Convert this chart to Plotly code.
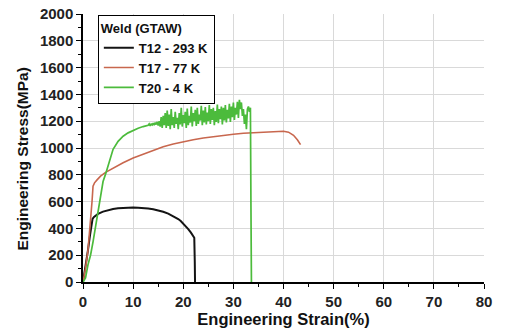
import plotly.graph_objects as go

# T12 - 293 K (black)
t12_strain = [0, 0.5, 1.0, 1.4, 1.7, 1.9, 2.2, 2.6, 3.0, 4.0, 5.0, 6.0, 7.0, 8.0, 9.0, 10.0, 11.0, 12.0,
              13.0, 14.0, 15.0, 16.0, 17.0, 18.0, 19.0, 19.5, 20.0, 20.5, 21.0, 21.5, 22.0, 22.2, 22.3, 22.35]
t12_stress = [0, 110, 240, 350, 440, 470, 485, 498, 508, 525, 537, 545, 550, 553, 555, 556, 555, 553,
              549, 543, 535, 524, 510, 492, 470, 455, 437, 418, 395, 370, 345, 330, 150, 0]

# T17 - 77 K (red)
t17_strain = [0, 0.5, 1.0, 1.5, 1.8, 2.0, 2.3, 2.8, 3.5, 4.5, 6.0, 8.0, 10.0, 12.0, 14.0, 16.0, 18.0,
              20.0, 22.0, 24.0, 26.0, 28.0, 30.0, 32.0, 34.0, 36.0, 38.0, 40.0, 41.0, 42.0, 42.8, 43.4]
t17_stress = [0, 100, 240, 430, 600, 715, 740, 762, 790, 818, 850, 890, 925, 955, 985, 1010, 1030,
              1048, 1062, 1075, 1086, 1095, 1103, 1110, 1115, 1120, 1124, 1125, 1118, 1095, 1060, 1025]

# T20 - 4 K (green)
t20_strain = [0, 0.5, 1.0, 1.5, 2.0, 2.5, 3.0, 3.5, 4.0, 4.5, 5.0, 5.5, 6.0, 7.0, 8.0, 9.0, 10.0, 11.0, 12.0,
              13.0, 13.2, 13.4, 13.6, 13.8, 14.0, 14.2, 14.4, 14.6, 14.8, 15.0, 15.2, 15.4, 15.6, 15.8,
              16.0, 16.2, 16.4, 16.6, 16.8, 17.0, 17.2, 17.4, 17.6, 17.8, 18.0, 18.2, 18.4, 18.6, 18.8,
              19.0, 19.2, 19.4, 19.6, 19.8, 20.0, 20.2, 20.4, 20.6, 20.8, 21.0, 21.2, 21.4, 21.6, 21.8,
              22.0, 22.2, 22.4, 22.6, 22.8, 23.0, 23.2, 23.4, 23.6, 23.8, 24.0, 24.2, 24.4, 24.6, 24.8,
              25.0, 25.2, 25.4, 25.6, 25.8, 26.0, 26.2, 26.4, 26.6, 26.8, 27.0, 27.2, 27.4, 27.6, 27.8,
              28.0, 28.2, 28.4, 28.6, 28.8, 29.0, 29.2, 29.4, 29.6, 29.8, 30.0, 30.2, 30.4, 30.6, 30.8,
              31.0, 31.2, 31.4, 31.6, 31.8, 32.0, 32.2, 32.4, 32.6, 32.8, 33.0, 33.2, 33.4, 33.5, 33.6]
t20_stress = [0, 30, 130, 200, 300, 420, 545, 665, 750, 805, 870, 940, 990, 1050, 1088, 1113, 1133, 1148, 1160,
              1170, 1180, 1165, 1178, 1172, 1185, 1170, 1190, 1175, 1195, 1168, 1200, 1160, 1230, 1150,
              1240, 1170, 1260, 1150, 1280, 1165, 1250, 1140, 1290, 1170, 1230, 1150, 1270, 1180, 1225,
              1140, 1260, 1175, 1300, 1160, 1245, 1185, 1270, 1150, 1295, 1170, 1240, 1190, 1310, 1160,
              1260, 1200, 1285, 1165, 1300, 1180, 1250, 1205, 1315, 1170, 1280, 1190, 1305, 1175, 1265,
              1200, 1320, 1180, 1290, 1210, 1300, 1170, 1275, 1195, 1325, 1185, 1290, 1215, 1310, 1175,
              1300, 1205, 1320, 1190, 1285, 1220, 1330, 1195, 1310, 1230, 1340, 1210, 1300, 1250, 1345,
              1225, 1360, 1290, 1340, 1240, 1290, 1180, 1250, 1140, 1290, 1310, 1270, 1300, 600, 0]

x_ticks = [0, 10, 20, 30, 40, 50, 60, 70, 80]
y_ticks = [0, 200, 400, 600, 800, 1000, 1200, 1400, 1600, 1800, 2000]

FONT = "Liberation Sans, Arial, sans-serif"

fig = go.Figure()
fig.add_trace(go.Scatter(x=t12_strain, y=t12_stress, mode="lines", name="T12 - 293 K",
                         line=dict(color="#141414", width=2)))
fig.add_trace(go.Scatter(x=t17_strain, y=t17_stress, mode="lines", name="T17 - 77 K",
                         line=dict(color="#c8674e", width=1.6)))
fig.add_trace(go.Scatter(x=t20_strain, y=t20_stress, mode="lines", name="T20 - 4 K",
                         line=dict(color="#4cbb3c", width=1.7)))

axis_common = dict(showline=True, linecolor="black", linewidth=1.5, zeroline=False,
                   tickcolor="black", tickwidth=1.2, ticklen=5, automargin=False,
                   tickfont=dict(family=FONT, size=15, color="#222", weight="bold"),
                   showgrid=True, gridcolor="#d9d9d9", gridwidth=1)

fig.update_layout(
    width=506, height=329,
    margin=dict(l=83, r=22, t=14, b=47),
    paper_bgcolor="white", plot_bgcolor="white",
    xaxis=dict(range=[0, 80], tickvals=x_ticks, ticks="outside",
               minor=dict(ticks="outside", ticklen=3, dtick=5, tickcolor="black", showgrid=False),
               title=dict(text="Engineering Strain(%)", standoff=3,
                          font=dict(family=FONT, size=16.5, color="#111", weight="bold")),
               **axis_common),
    yaxis=dict(range=[0, 2000], tickvals=y_ticks, ticks="outside",
               minor=dict(ticks="outside", ticklen=3, dtick=100, tickcolor="black", showgrid=False),
               **axis_common),
    xaxis2=dict(range=[0, 80], overlaying="x", side="top", anchor="y", showline=True,
                linecolor="black", linewidth=1.5, ticks="inside", tickvals=x_ticks, ticklen=4,
                tickcolor="black", showticklabels=False, showgrid=False, zeroline=False, automargin=False,
                minor=dict(ticks="inside", ticklen=3, dtick=5, tickcolor="black")),
    yaxis2=dict(range=[0, 2000], overlaying="y", side="right", anchor="x", showline=True,
                linecolor="black", linewidth=1.5, ticks="inside", tickvals=y_ticks, ticklen=4,
                tickcolor="black", showticklabels=False, showgrid=False, zeroline=False, automargin=False,
                minor=dict(ticks="inside", ticklen=3, dtick=100, tickcolor="black")),
    legend=dict(x=0.037, y=0.997, xanchor="left", yanchor="top",
                bgcolor="white", bordercolor="black", borderwidth=1,
                font=dict(family=FONT, size=13, color="#111", weight="bold"),
                title=dict(text="Weld (GTAW)", font=dict(family=FONT, size=13, color="#111", weight="bold")),
                tracegroupgap=0, itemwidth=30),
    showlegend=True,
    annotations=[dict(text="Engineering Stress(MPa)", textangle=-90, showarrow=False,
                      xref="paper", yref="paper", x=-0.152, y=0.457,
                      xanchor="center", yanchor="middle",
                      font=dict(family=FONT, size=15.5, color="#111", weight="bold"))],
)

fig.write_html("out.html", config={"displayModeBar": False},
               post_script="document.body.style.margin='0';document.body.style.padding='0';")
